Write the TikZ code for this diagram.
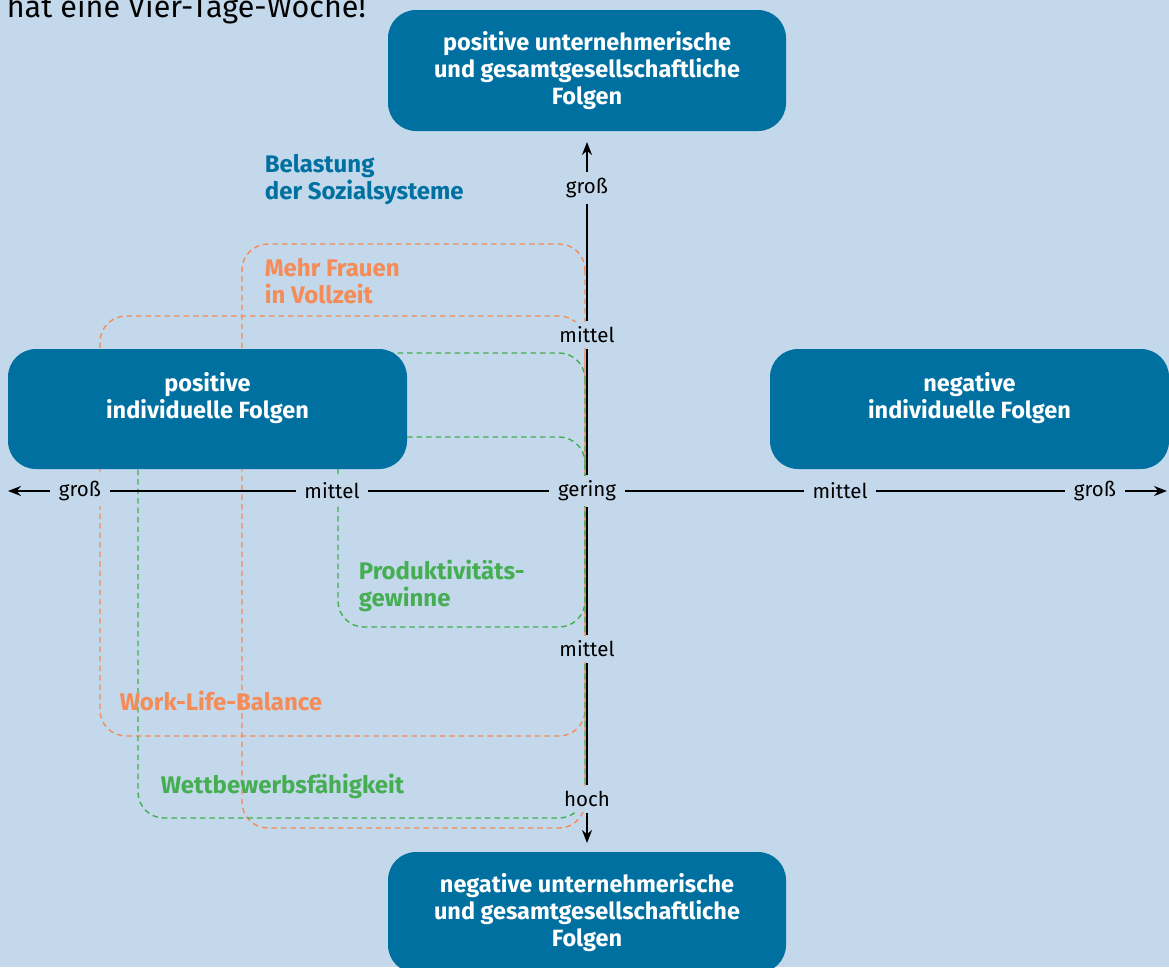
\documentclass[tikz,border=0pt]{standalone}
\usepackage{fontspec}
\setmainfont{Fira Sans}
\usetikzlibrary{arrows.meta,positioning}

\definecolor{bgblue}{HTML}{C3D8EB}
\definecolor{boxblue}{HTML}{0070A1}
\definecolor{orng}{HTML}{F58B57}
\definecolor{grn}{HTML}{45AE52}

\begin{document}
\begin{tikzpicture}[x=1pt,y=-1pt,>={Stealth[length=13pt,width=10pt]},
                    line width=1.7pt]
  \tikzstyle{folge}=[fill=boxblue,rounded corners=28pt,text=white,align=center,
                     font=\bfseries\fontsize{23.5}{27}\selectfont,inner sep=0pt]
  \tikzstyle{stufe}=[fill=bgblue,inner xsep=8pt,inner ysep=5pt,
                     font=\fontsize{20.5}{22}\selectfont]
  \tikzstyle{zone}=[dash pattern=on 5.5pt off 4pt,line width=1.4pt,rounded corners=26pt]
  \tikzstyle{thema}=[anchor=base west,align=left,inner sep=0pt,
                     font=\bfseries\fontsize{24}{27}\selectfont]

  \fill[bgblue] (0,0) rectangle (1169,967);
  \useasboundingbox (0,0) rectangle (1169,967);

  \node[anchor=base west,inner sep=0pt,font=\fontsize{30.5}{32}\selectfont] (head) at (6,17)
    {hat eine Vier-Tage-Woche!};

  % zones
  \draw[zone,orng] (585,244) rectangle (242,828);
  \draw[zone,orng] (585,316) rectangle (100,736);
  \draw[zone,grn] (585,353) rectangle (138,818);
  \draw[zone,grn] (585,437) rectangle (338,627);

  % boxes
  \node[folge,minimum width=398pt,minimum height=121pt] (posunt) at (587,70.5)
    {positive unternehmerische\\und gesamtgesellschaftliche\\Folgen};
  \node[folge,minimum width=399pt,minimum height=120pt] (posind) at (207.5,409)
    {positive\\individuelle Folgen\\~};
  \node[folge,minimum width=399pt,minimum height=120pt] (negind) at (969.5,409)
    {negative\\individuelle Folgen\\~};
  \node[folge,minimum width=398pt,minimum height=121pt] (negunt) at (587,912.5)
    {negative unternehmerische\\und gesamtgesellschaftliche\\Folgen};

  % axis labels
  \node[stufe] (gering) at (587,491) {gering};
  \node[stufe] (lmittel) at (332,491) {mittel};
  \node[stufe] (lgross) at (80,491) {groß};
  \node[stufe] (rmittel) at (840,491) {mittel};
  \node[stufe] (rgross) at (1095,491) {groß};
  \node[stufe] (ogross) at (587,188) {groß};
  \node[stufe] (omittel) at (587,335) {mittel};
  \node[stufe] (umittel) at (587,649) {mittel};
  \node[stufe] (uhoch) at (587,799) {hoch};

  \coordinate (west) at (8,491);
  \coordinate (east) at (1167,491);
  \coordinate (north) at (587,142);
  \coordinate (south) at (587,843);

  \draw[->] (lgross) -- (west);
  \draw (lgross) -- (lmittel) (lmittel) -- (gering) (gering) -- (rmittel) (rmittel) -- (rgross);
  \draw[->] (rgross) -- (east);
  \draw[->] (ogross) -- (north);
  \draw (ogross) -- (omittel) (omittel) -- (gering) (gering) -- (umittel) (umittel) -- (uhoch);
  \draw[->] (uhoch) -- (south);

  % zone labels (base = last line)
  \node[thema,text=boxblue] (belast) at (264,199) {Belastung\\der Sozialsysteme};
  \node[thema,text=orng] (frauen) at (264,303) {Mehr Frauen\\in Vollzeit};
  \node[thema,text=grn] (produkt) at (358,606) {Produktivitäts-\\gewinne};
  \node[thema,text=orng] (wlb) at (119,710) {Work-Life-Balance};
  \node[thema,text=grn] (wettb) at (160,793) {Wettbewerbsfähigkeit};
\end{tikzpicture}
\end{document}
